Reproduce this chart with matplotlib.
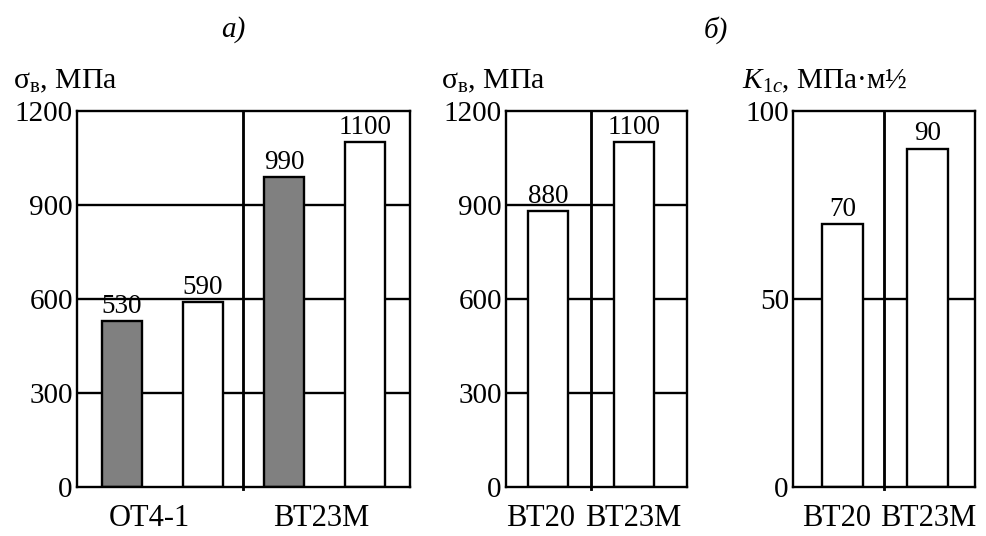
import matplotlib
matplotlib.use("Agg")
import matplotlib.pyplot as plt

# strength of the alloys, MPa (gray = first state, white = second state)
alloys_a = ["ОТ4-1", "ВТ23М"]
strength_a = [530, 590, 990, 1100]
colors_a = ["#808080", "white", "#808080", "white"]

# strength and fracture toughness, ВТ20 vs ВТ23М
alloys_b = ["ВТ20", "ВТ23М"]
strength_b = [880, 1100]
toughness_b = [70, 90]

plt.rcParams["font.family"] = ["Liberation Serif", "DejaVu Serif"]
plt.rcParams["mathtext.fontset"] = "custom"
plt.rcParams["mathtext.rm"] = "Liberation Serif"
plt.rcParams["mathtext.it"] = "Liberation Serif:italic"
plt.rcParams["mathtext.bf"] = "Liberation Serif:bold"

LW = 1.7
fig = plt.figure(figsize=(9.86, 5.36), dpi=100)

def style(ax, ymax, yticks, grid):
    ax.set_ylim(0, ymax)
    ax.set_yticks(yticks)
    for s in ax.spines.values():
        s.set_linewidth(LW)
    ax.tick_params(axis="y", length=0, pad=3, labelsize=21)
    ax.tick_params(axis="x", length=0, pad=12, labelsize=22)
    for g in grid:
        ax.axhline(g, color="black", lw=LW, zorder=1)

def bars(ax, xs, vals, colors, width):
    ax.bar(xs, vals, width=width, color=colors, edgecolor="black",
           linewidth=LW, zorder=2)
    for x, v in zip(xs, vals):
        ax.text(x, v + ax.get_ylim()[1] * 0.006, str(v), ha="center",
                va="bottom", fontsize=19.5)

def divider(ax, x):
    ax.axvline(x, ymin=-0.006, ymax=1, color="black", lw=LW * 1.2,
               clip_on=False, zorder=3)

# panel а)
ax1 = fig.add_axes([0.0781, 0.0914, 0.3377, 0.7015])
ax1.set_xlim(0, 4)
style(ax1, 1200, [0, 300, 600, 900, 1200], [300, 600, 900])
bars(ax1, [0.54, 1.51, 2.49, 3.46], strength_a, colors_a, 0.48)
divider(ax1, 2.0)
ax1.set_xticks([0.87, 2.93])
ax1.set_xticklabels(alloys_a)

# panel б), strength
ax2 = fig.add_axes([0.5132, 0.0914, 0.1836, 0.7015])
ax2.set_xlim(0, 2)
style(ax2, 1200, [0, 300, 600, 900, 1200], [300, 600, 900])
bars(ax2, [0.464, 1.41], strength_b, ["white", "white"], 0.44)
divider(ax2, 0.94)
ax2.set_xticks([0.38, 1.41])
ax2.set_xticklabels(alloys_b)

# panel б), fracture toughness
ax3 = fig.add_axes([0.8043, 0.0914, 0.1846, 0.7015])
ax3.set_xlim(0, 2)
style(ax3, 100, [0, 50, 100], [50])
bars(ax3, [0.544, 1.48], toughness_b, ["white", "white"], 0.45)
divider(ax3, 1.0)
ax3.set_xticks([0.48, 1.48])
ax3.set_xticklabels(alloys_b)

# axis captions
fig.text(0.013, 0.836, r"$\mathregular{σ_{в}}$, МПа", fontsize=21.5, va="baseline")
fig.text(0.447, 0.836, r"$\mathregular{σ_{в}}$, МПа", fontsize=21.5, va="baseline")
fig.text(0.753, 0.836, r"$\mathbf{\mathit{K}}_{1c}$, МПа·м½", fontsize=21,
         va="baseline")

fig.text(0.237, 0.944, "а)", fontsize=21, style="italic", ha="center", va="center")
fig.text(0.726, 0.944, "б)", fontsize=21, style="italic", ha="center", va="center")

fig.savefig("out.png", dpi=100)
